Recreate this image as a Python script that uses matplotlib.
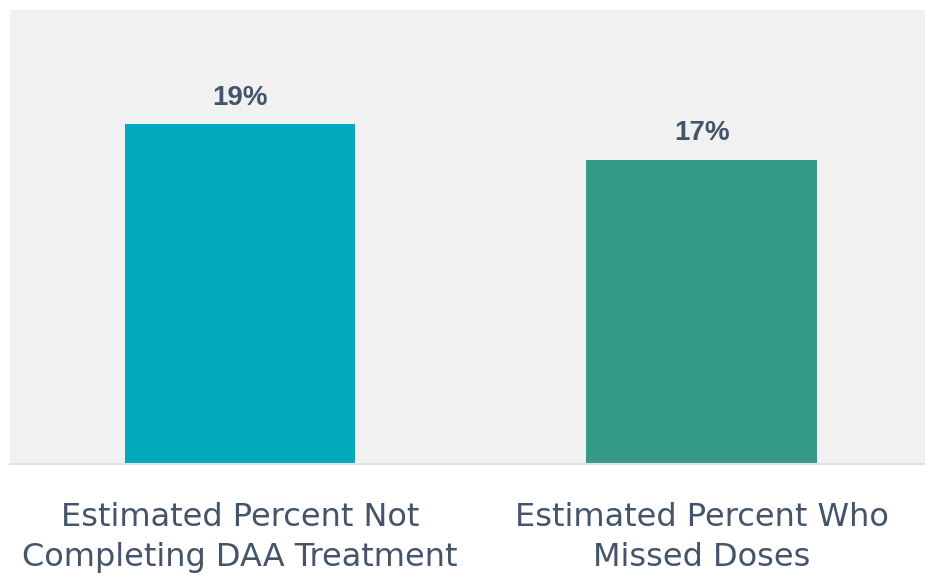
import matplotlib.pyplot as plt

# -- chart data
categories = ["Estimated Percent Not\nCompleting DAA Treatment",
              "Estimated Percent Who\nMissed Doses"]
values = [19, 17]
bar_colors = ["#02A9BA", "#359A87"]

text_color = "#44546A"
panel_color = "#F1F1F1"

fig = plt.figure(figsize=(9.25, 5.76), dpi=100)
ax = fig.add_axes([10 / 925, 1 - 464 / 576, 1 - 10 / 925, 454 / 576])
ax.set_facecolor(panel_color)

x = list(range(len(categories)))
bars = ax.bar(x, values, width=0.5, color=bar_colors, zorder=2)

for bar, v in zip(bars, values):
    ax.annotate(f"{v}%", (bar.get_x() + bar.get_width() / 2, v),
                xytext=(0, 10), textcoords="offset points",
                ha="center", va="bottom", fontsize=20, fontweight="bold",
                color=text_color, family="Liberation Sans")

ax.set_xlim(-0.498, 1.483)
ax.set_ylim(0, 25.4)
ax.set_yticks([])
ax.set_xticks(x)
ax.set_xticklabels(categories, fontsize=23, color=text_color,
                   family="DejaVu Sans", linespacing=1.4)
ax.tick_params(axis="x", length=0, pad=27)

for side in ("top", "left", "right"):
    ax.spines[side].set_visible(False)
ax.spines["bottom"].set_color("#DDE3E8")
ax.spines["bottom"].set_linewidth(1.5)

fig.savefig("out.png", dpi=100)
